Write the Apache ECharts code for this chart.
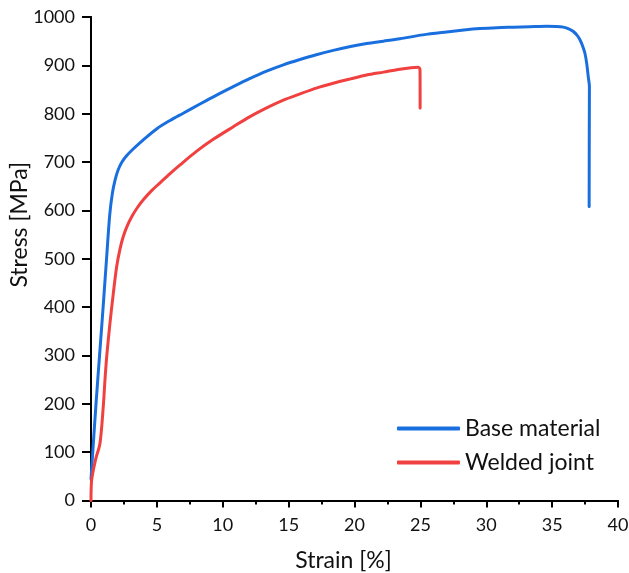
<!DOCTYPE html>
<html>
<head>
<meta charset="utf-8">
<script src="https://cdn.jsdelivr.net/npm/echarts@6/dist/echarts.min.js"></script>
<style>html,body{margin:0;padding:0;background:#fff}#c{width:629px;height:573px}</style>
</head>
<body>
<div id="c"></div>
<script>
var seriesNames = ['Base material', 'Welded joint'];
var xTicks = [0, 5, 10, 15, 20, 25, 30, 35, 40];
var yTicks = [0, 100, 200, 300, 400, 500, 600, 700, 800, 900, 1000];
var baseMaterial = [
  [0, 45], [0.38, 200], [0.65, 300], [0.92, 400], [1.18, 500], [1.42, 590], [1.62, 635],
  [1.83, 663], [2.05, 683], [2.35, 700], [2.7, 713], [3.2, 727], [3.97, 746], [5, 769],
  [6, 786], [7, 801], [8.27, 820], [9.5, 838], [10.8, 856], [12, 872], [13.33, 888],
  [14.6, 901], [15.86, 912], [17.1, 922], [18.39, 931], [19.7, 939], [20.92, 945],
  [22.2, 950], [23.45, 955], [25.2, 963], [26.99, 969], [28.3, 973], [29.52, 976],
  [30.8, 978], [32.05, 979], [33.3, 980], [34.59, 981], [35.3, 980.5], [35.85, 979],
  [36.3, 975], [36.61, 970], [36.9, 962], [37.11, 953], [37.3, 941], [37.49, 925],
  [37.63, 903], [37.74, 877], [37.83, 856], [37.82, 760], [37.81, 608]
];
var weldedJoint = [
  [0, 0], [0.05, 42], [0.35, 85], [0.68, 118], [0.93, 194], [1.06, 249], [1.2, 300],
  [1.44, 367], [1.7, 430], [1.95, 484], [2.2, 520], [2.45, 546], [2.75, 568],
  [3.09, 587], [3.5, 605], [3.97, 622], [4.6, 641], [5.24, 657], [6, 676], [6.76, 694],
  [8, 722], [9.28, 747], [10.8, 773], [12, 793], [13.33, 812], [14.6, 828],
  [15.86, 841], [17.1, 853], [18.39, 863], [19.7, 872], [20.92, 880], [22.2, 886],
  [23.45, 892], [24.3, 895], [24.84, 896], [24.97, 891], [24.98, 850], [24.98, 812]
];

var chart = echarts.init(document.getElementById('c'), null, {renderer: 'canvas'});
var FONT = 'Lato';
var TXT = '#111';
chart.setOption({
  animation: false,
  backgroundColor: '#fff',
  grid: {left: 91, right: 11, top: 17, bottom: 72.5, containLabel: false, outerBoundsMode: 'none'},
  legend: {
    orient: 'vertical',
    left: 392,
    top: 412,
    itemWidth: 63,
    itemHeight: 4,
    itemGap: 11,
    icon: 'roundRect',
    data: seriesNames,
    textStyle: {fontFamily: FONT, fontSize: 23, color: TXT, lineHeight: 22}
  },
  xAxis: [{
    type: 'value', min: 0, max: 40, interval: 5,
    name: 'Strain [%]', nameLocation: 'middle', nameGap: 49, nameMoveOverlap: false,
    nameTextStyle: {fontFamily: FONT, fontSize: 23, color: TXT, padding: [0, 22, 0, 0]},
    axisLine: {show: true, onZero: false, lineStyle: {color: '#000', width: 2}},
    axisTick: {show: true, inside: false, length: 7, lineStyle: {color: '#000', width: 2}},
    minorTick: {show: true, splitNumber: 2, length: 4, lineStyle: {color: '#000', width: 2}},
    splitLine: {show: false},
    axisLabel: {fontFamily: FONT, fontSize: 18, color: TXT, margin: 16,
      formatter: function (v) { return xTicks.indexOf(v) >= 0 ? String(v) : ''; }}
  }, {
    type: 'value', min: 0, max: 40, position: 'top',
    axisLine: {show: true, lineStyle: {color: '#000', width: 2}},
    axisTick: {show: false}, axisLabel: {show: false}, splitLine: {show: false}
  }],
  yAxis: [{
    type: 'value', min: 0, max: 1000, interval: 100,
    name: 'Stress [MPa]', nameLocation: 'middle', nameGap: 60, nameMoveOverlap: false,
    nameTextStyle: {fontFamily: FONT, fontSize: 23, color: TXT, padding: [0, 0, 0, 68]},
    axisLine: {show: true, onZero: false, lineStyle: {color: '#000', width: 2}},
    axisTick: {show: true, inside: false, length: 9, lineStyle: {color: '#000', width: 2}},
    splitLine: {show: false},
    axisLabel: {fontFamily: FONT, fontSize: 18, color: TXT, margin: 16,
      formatter: function (v) { return yTicks.indexOf(v) >= 0 ? String(v) : ''; }}
  }, {
    type: 'value', min: 0, max: 1000, position: 'right',
    axisLine: {show: true, lineStyle: {color: '#000', width: 2}},
    axisTick: {show: false}, axisLabel: {show: false}, splitLine: {show: false}
  }],
  series: [{
    name: seriesNames[0], type: 'line', data: baseMaterial,
    showSymbol: false, smooth: 0.3, color: '#1A6FDF',
    lineStyle: {width: 3, color: '#1A6FDF', cap: 'round', join: 'round'}
  }, {
    name: seriesNames[1], type: 'line', data: weldedJoint,
    showSymbol: false, smooth: 0.3, color: '#F14040',
    lineStyle: {width: 3, color: '#F14040', cap: 'round', join: 'round'}
  }]
});
</script>
</body>
</html>
